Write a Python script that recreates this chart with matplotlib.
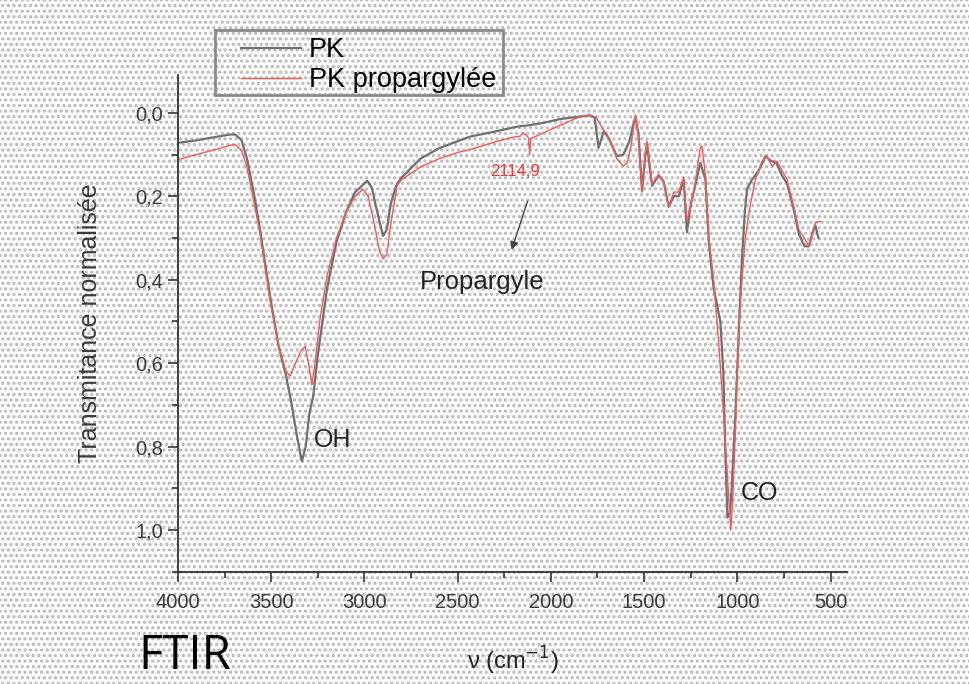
import numpy as np
import matplotlib.pyplot as plt
import matplotlib.ticker as ticker
from matplotlib.patches import Rectangle

plt.rcParams['font.family'] = ['Liberation Sans', 'DejaVu Sans']

# PK (gray curve)
wn_pk = [4000, 3900, 3800, 3720, 3694, 3660, 3630, 3590, 3560, 3506, 3460, 3420, 3390, 3360,
         3336, 3315, 3295, 3275, 3250, 3200, 3150, 3100, 3050, 2985, 2960, 2930, 2900, 2880,
         2860, 2830, 2800, 2700, 2600, 2500, 2433, 2300, 2200, 2164, 2120, 2050, 1950, 1842,
         1790, 1765, 1744, 1717, 1690, 1646, 1611, 1580, 1547, 1530, 1511, 1495, 1484, 1470,
         1457, 1422, 1395, 1368, 1341, 1314, 1288, 1270, 1250, 1234, 1198, 1171, 1153, 1127,
         1100, 1091, 1075, 1065, 1053, 1040, 1030, 1010, 990, 975, 960, 948, 921, 887, 849,
         820, 790, 760, 733, 698, 670, 640, 617, 590, 581, 565]
tr_pk = [0.072, 0.066, 0.058, 0.052, 0.052, 0.065, 0.11, 0.20, 0.28, 0.44, 0.56, 0.63, 0.70, 0.78,
         0.835, 0.80, 0.72, 0.68, 0.58, 0.42, 0.31, 0.24, 0.19, 0.163, 0.18, 0.24, 0.295, 0.28,
         0.22, 0.175, 0.155, 0.11, 0.085, 0.068, 0.057, 0.045, 0.035, 0.032, 0.030, 0.025, 0.015, 0.009,
         0.006, 0.012, 0.084, 0.045, 0.06, 0.104, 0.10, 0.07, 0.01, 0.05, 0.187, 0.11, 0.075, 0.13,
         0.175, 0.15, 0.165, 0.225, 0.20, 0.20, 0.16, 0.286, 0.22, 0.19, 0.12, 0.16, 0.31, 0.42,
         0.48, 0.50, 0.62, 0.80, 0.97, 0.96, 0.90, 0.72, 0.50, 0.35, 0.24, 0.183, 0.16, 0.14, 0.104,
         0.115, 0.12, 0.15, 0.17, 0.23, 0.29, 0.32, 0.32, 0.28, 0.27, 0.30]

# PK propargylee (red curve)
wn_pkp = [4000, 3900, 3800, 3720, 3694, 3660, 3630, 3590, 3560, 3506, 3460, 3420, 3399, 3370,
          3340, 3318, 3300, 3282, 3265, 3240, 3200, 3150, 3100, 3050, 3007, 2980, 2950, 2920,
          2900, 2880, 2860, 2825, 2800, 2700, 2600, 2500, 2433, 2300, 2200, 2164, 2150, 2135,
          2120, 2114, 2108, 2050, 1950, 1842, 1790, 1760, 1745, 1720, 1700, 1680, 1646, 1611,
          1590, 1570, 1547, 1530, 1511, 1495, 1484, 1470, 1457, 1422, 1395, 1368, 1341, 1314,
          1288, 1270, 1250, 1234, 1198, 1189, 1171, 1153, 1127, 1100, 1080, 1060, 1045, 1035,
          1025, 1010, 1000, 983, 957, 930, 903, 867, 840, 813, 787, 733, 698, 670, 617, 581, 554]
tr_pkp = [0.112, 0.10, 0.088, 0.078, 0.076, 0.09, 0.13, 0.22, 0.29, 0.45, 0.56, 0.62, 0.631, 0.60,
          0.57, 0.56, 0.60, 0.652, 0.60, 0.50, 0.39, 0.30, 0.24, 0.20, 0.183, 0.20, 0.26, 0.33,
          0.35, 0.34, 0.27, 0.175, 0.16, 0.13, 0.11, 0.095, 0.088, 0.07, 0.058, 0.056, 0.048, 0.052,
          0.06, 0.10, 0.062, 0.05, 0.03, 0.009, 0.006, 0.01, 0.02, 0.04, 0.05, 0.07, 0.11, 0.128,
          0.12, 0.08, 0.005, 0.06, 0.19, 0.10, 0.068, 0.12, 0.171, 0.148, 0.163, 0.226, 0.19, 0.19,
          0.155, 0.26, 0.22, 0.19, 0.083, 0.08, 0.15, 0.30, 0.40, 0.55, 0.68, 0.82, 0.93, 1.0,
          0.93, 0.76, 0.62, 0.445, 0.30, 0.22, 0.16, 0.116, 0.104, 0.128, 0.116, 0.16, 0.223, 0.28,
          0.318, 0.263, 0.26]

fig = plt.figure(figsize=(9.7, 6.84), dpi=100)
plt.rcParams['hatch.linewidth'] = 1.5
bg = Rectangle((0, 0), 1, 1, transform=fig.transFigure, facecolor='white',
               edgecolor='#b8b8b8', hatch='...', lw=0, zorder=-10)
fig.patches.append(bg)

ax = fig.add_axes([0.1835, 0.164, 0.69, 0.726])
ax.patch.set_alpha(0)

ax.plot(wn_pk, tr_pk, color='#707070', lw=1.6, label='PK')
ax.plot(wn_pkp, tr_pkp, color='#ff5555', lw=1.0, label='PK propargylée')

ax.set_xlim(4000, 410)
ax.set_ylim(1.1, -0.09)
ax.xaxis.set_major_locator(ticker.MultipleLocator(500))
ax.xaxis.set_minor_locator(ticker.MultipleLocator(250))
ax.yaxis.set_major_locator(ticker.MultipleLocator(0.2))
ax.yaxis.set_minor_locator(ticker.MultipleLocator(0.1))
ax.yaxis.set_major_formatter(ticker.FuncFormatter(lambda v, p: f'{abs(v):.1f}'.replace('.', ',')))
ax.spines['top'].set_visible(False)
ax.spines['right'].set_visible(False)
for s in ('left', 'bottom'):
    ax.spines[s].set_color('#333333')
    ax.spines[s].set_linewidth(1.3)
ax.tick_params(which='major', length=7, width=1.2, color='#333333', labelsize=14.5,
               labelcolor='#3a3a3a')
ax.tick_params(axis='x', which='major', pad=8)
ax.tick_params(which='minor', length=4, width=1.2, color='#333333')

ax.set_xlabel('ν (cm$^{-1}$)', fontsize=17, color='#222222', labelpad=24)
ax.set_ylabel('Transmitance normalisée', fontsize=18, color='#3a3a3a', labelpad=24)

ax.text(3270, 0.785, 'OH', fontsize=18, color='#222222', va='center')
ax.text(983, 0.91, 'CO', fontsize=18, color='#222222', va='center')
ax.text(2700, 0.405, 'Propargyle', fontsize=18.5, color='#222222', va='center')
ax.text(2191, 0.14, '2114,9', fontsize=12, color='#ff3030', ha='center', va='center')
ax.annotate('', xy=(2215, 0.335), xytext=(2120, 0.205),
            arrowprops=dict(arrowstyle='-|>', color='#444444', lw=1.0, mutation_scale=12))

# legend box drawn separately to get the wide left margin of the original
fig.patches.append(Rectangle((215 / 970, 1 - 95 / 684), 288 / 970, 65 / 684,
                             transform=fig.transFigure, facecolor='none',
                             edgecolor='#8a8a8a', lw=2.0, zorder=5))
leg = ax.legend(loc='upper left', bbox_to_anchor=(240 / 970, 1 - 36 / 684),
                bbox_transform=fig.transFigure, borderaxespad=0, fontsize=19.5,
                frameon=False, handlelength=2.2, borderpad=0.05, labelspacing=0.15,
                handletextpad=0.3)

fig.text(0.143, 0.022, 'FTIR', fontsize=34, family='Open Sans', color='black')

fig.savefig('out.png', dpi=100)
